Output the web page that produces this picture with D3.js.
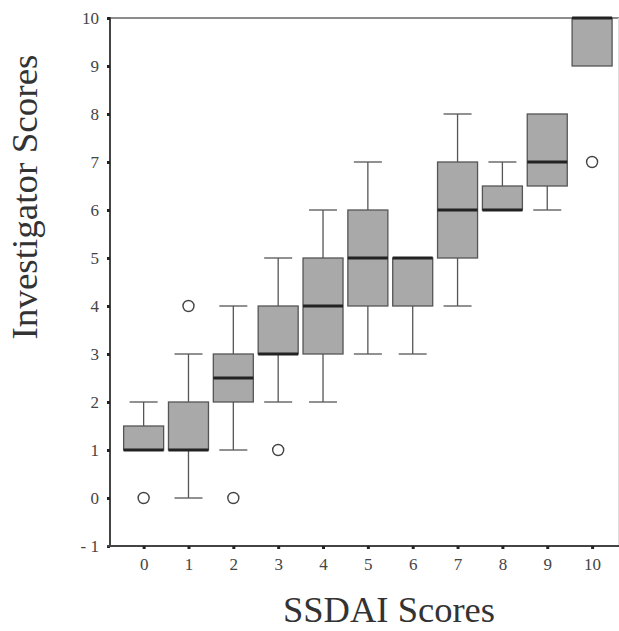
<!DOCTYPE html>
<html><head><meta charset="utf-8">
<script src="https://cdn.jsdelivr.net/npm/d3@7"></script>
<style>body{margin:0;background:#fff}</style>
</head><body>
<svg id="c" width="619" height="631"></svg>
<script>
const categories = [0,1,2,3,4,5,6,7,8,9,10];
const whiskerLow  = [1,0,1,2,2,3,3,4,6,6,9];
const q1          = [1,1,2,3,3,4,4,5,6,6.5,9];
const medians     = [1,1,2.5,3,4,5,5,6,6,7,10];
const q3          = [1.5,2,3,4,5,6,5,7,6.5,8,10];
const whiskerHigh = [2,3,4,5,6,7,5,8,7,8,10];
const outliers    = [[0,0],[1,4],[2,0],[3,1],[10,7]];
const yTicks = [-1,0,1,2,3,4,5,6,7,8,9,10];

const svg = d3.select("#c");
const pL = 110, pR = 619, pT = 18, pB = 546;
const x = d3.scaleLinear().domain([-0.75, 10.6]).range([pL, 619]);
const y = d3.scaleLinear().domain([-1, 10]).range([pB, pT]);
const bw = 40;
const font = "'Liberation Serif', 'Times New Roman', serif";

// frame lines
svg.append("line").attr("x1", pL).attr("x2", pR).attr("y1", pT).attr("y2", pT).attr("stroke", "#666").attr("stroke-width", 1.5);
svg.append("line").attr("x1", pR-0.5).attr("x2", pR-0.5).attr("y1", pT).attr("y2", pB).attr("stroke", "#ddd").attr("stroke-width", 1);

const data = categories.map((c,i)=>({c, lo:whiskerLow[i], q1:q1[i], med:medians[i], q3:q3[i], hi:whiskerHigh[i]}));
const g = svg.append("g");
data.forEach(d=>{
  const cx = x(d.c);
  if (d.hi > d.q3) {
    g.append("line").attr("x1",cx).attr("x2",cx).attr("y1",y(d.q3)).attr("y2",y(d.hi)).attr("stroke","#555").attr("stroke-width",1.3);
    g.append("line").attr("x1",cx-14).attr("x2",cx+14).attr("y1",y(d.hi)).attr("y2",y(d.hi)).attr("stroke","#555").attr("stroke-width",1.3);
  }
  if (d.lo < d.q1) {
    g.append("line").attr("x1",cx).attr("x2",cx).attr("y1",y(d.q1)).attr("y2",y(d.lo)).attr("stroke","#555").attr("stroke-width",1.3);
    g.append("line").attr("x1",cx-14).attr("x2",cx+14).attr("y1",y(d.lo)).attr("y2",y(d.lo)).attr("stroke","#555").attr("stroke-width",1.3);
  }
  g.append("rect").attr("x",cx-bw/2).attr("y",y(d.q3)).attr("width",bw).attr("height",Math.max(0,y(d.q1)-y(d.q3)))
    .attr("fill","#a9a9a9").attr("stroke","#555").attr("stroke-width",1.3);
  g.append("line").attr("x1",cx-bw/2).attr("x2",cx+bw/2).attr("y1",y(d.med)).attr("y2",y(d.med)).attr("stroke","#222").attr("stroke-width",3);
});
outliers.forEach(o=>{
  g.append("circle").attr("cx",x(o[0])).attr("cy",y(o[1])).attr("r",5.5).attr("fill","#fff").attr("stroke","#444").attr("stroke-width",1.4);
});

// axes
const yAxis = d3.axisLeft(y).tickValues(yTicks).tickSize(3).tickPadding(8).tickFormat(d=> d<0 ? "- " + Math.abs(d) : d);
const ya = svg.append("g").attr("transform",`translate(${pL},0)`).call(yAxis);
ya.select(".domain").attr("stroke","#444").attr("stroke-width",2).attr("d",`M-3,${pT}H0V${pB}`);
ya.selectAll(".tick line").attr("stroke","#222").attr("stroke-width",3);
ya.selectAll("text").attr("font-family",font).attr("font-size",17).attr("fill","#444");

const xAxis = d3.axisBottom(x).tickValues(categories).tickSize(3).tickPadding(9);
const xa = svg.append("g").attr("transform",`translate(0,${pB})`).call(xAxis);
xa.select(".domain").attr("stroke","#444").attr("stroke-width",2).attr("d",`M${pL-3},0H${pR}`);
xa.selectAll(".tick line").attr("stroke","#222").attr("stroke-width",3);
xa.selectAll("text").attr("font-family",font).attr("font-size",17).attr("fill","#444");

svg.append("text").attr("transform","translate(37,197) rotate(-90)").attr("text-anchor","middle")
  .attr("font-family",font).attr("font-size",35).attr("fill","#333")
  .attr("textLength",285).attr("lengthAdjust","spacingAndGlyphs").text("Investigator Scores");
svg.append("text").attr("x",389).attr("y",622).attr("text-anchor","middle")
  .attr("font-family",font).attr("font-size",35).attr("fill","#333")
  .attr("textLength",212).attr("lengthAdjust","spacingAndGlyphs").text("SSDAI Scores");
</script>
</body></html>
